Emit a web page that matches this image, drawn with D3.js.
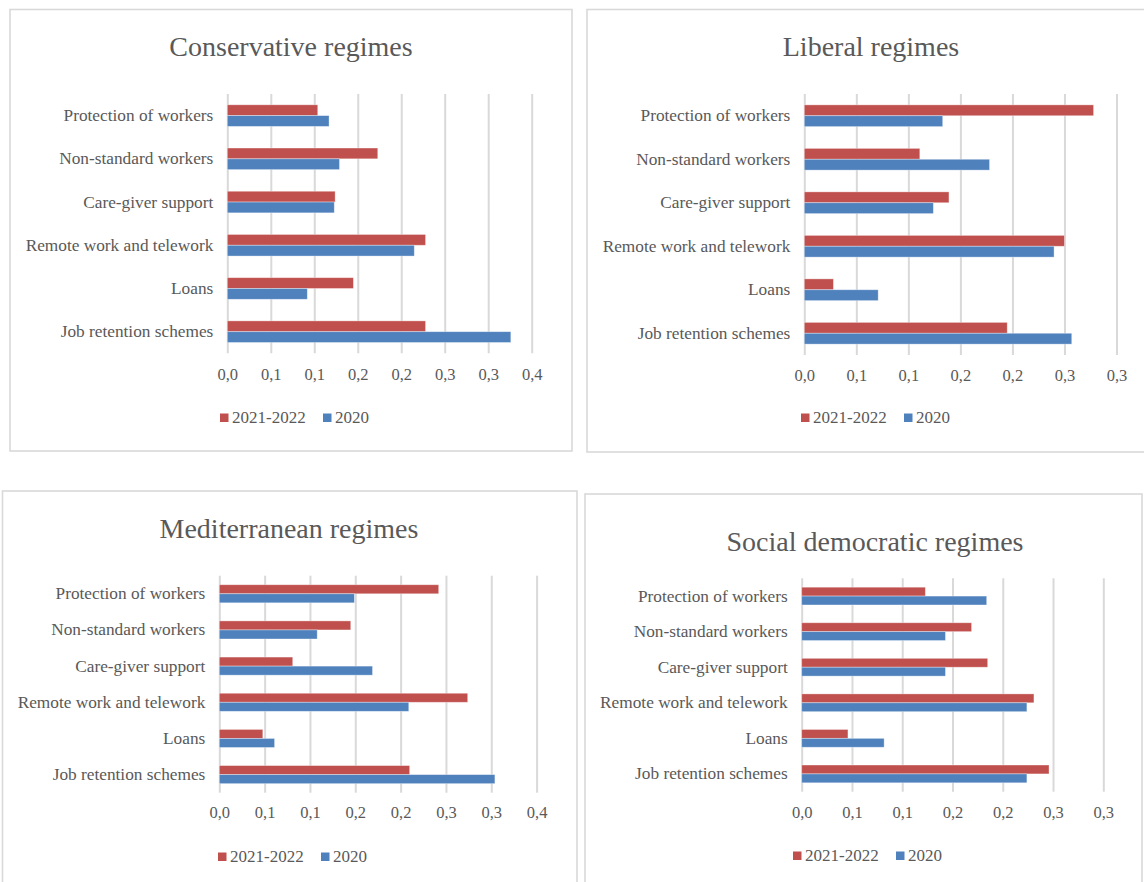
<!DOCTYPE html>
<html>
<head>
<meta charset="utf-8">
<script src="https://cdn.jsdelivr.net/npm/d3@7"></script>
<style>
  html, body { margin: 0; padding: 0; background: #ffffff; }
  svg { display: block; }
  text { font-family: "Liberation Serif", "Times New Roman", serif; fill: #595959; }
</style>
</head>
<body>
<svg id="chart" width="1144" height="882"></svg>
<script>
// Policy areas, listed top to bottom
const categories = [
  "Protection of workers",
  "Non-standard workers",
  "Care-giver support",
  "Remote work and telework",
  "Loans",
  "Job retention schemes"
];
const seriesNames = ["2021-2022", "2020"];
const seriesColors = ["#C0504D", "#4F81BD"];

// Shares per regime type and period
const conservative2122 = [0.104, 0.173, 0.124, 0.228, 0.145, 0.228];
const conservative2020 = [0.117, 0.129, 0.123, 0.215, 0.092, 0.326];
const liberal2122 = [0.278, 0.111, 0.139, 0.250, 0.028, 0.195];
const liberal2020 = [0.133, 0.178, 0.124, 0.240, 0.071, 0.257];
const mediterranean2122 = [0.242, 0.145, 0.081, 0.274, 0.048, 0.210];
const mediterranean2020 = [0.149, 0.108, 0.169, 0.209, 0.061, 0.304];
const social2122 = [0.123, 0.169, 0.185, 0.231, 0.046, 0.246];
const social2020 = [0.184, 0.143, 0.143, 0.224, 0.082, 0.224];

// Axis ticks (one-decimal labels, comma decimal separator)
const ticksTo035 = [0, 0.05, 0.10, 0.15, 0.20, 0.25, 0.30, 0.35];
const labelsTo035 = ["0,0", "0,1", "0,1", "0,2", "0,2", "0,3", "0,3", "0,4"];
const ticksTo030 = [0, 0.05, 0.10, 0.15, 0.20, 0.25, 0.30];
const labelsTo030 = ["0,0", "0,1", "0,1", "0,2", "0,2", "0,3", "0,3"];

const panels = [
  {
    title: "Conservative regimes", values: [conservative2122, conservative2020],
    ticks: ticksTo035, labels: labelsTo035,
    box: [10, 9.5, 562, 441.5], plot: { left: 227.3, right: 531.7, top: 94, bottom: 353.3 },
    titleX: 291, titleY: 56, tickY: 380, legendX: 220, legendY: 423
  },
  {
    title: "Liberal regimes", values: [liberal2122, liberal2020],
    ticks: ticksTo030, labels: labelsTo030,
    box: [587, 9.5, 580, 442.5], plot: { left: 804.3, right: 1116.5, top: 94, bottom: 355 },
    titleX: 871, titleY: 56, tickY: 381, legendX: 801, legendY: 423
  },
  {
    title: "Mediterranean regimes", values: [mediterranean2122, mediterranean2020],
    ticks: ticksTo035, labels: labelsTo035,
    box: [2.5, 491, 574.5, 420], plot: { left: 219.3, right: 536.6, top: 575.7, bottom: 792.7 },
    titleX: 289, titleY: 537.5, tickY: 818, legendX: 218, legendY: 862
  },
  {
    title: "Social democratic regimes", values: [social2122, social2020],
    ticks: ticksTo030, labels: labelsTo030,
    box: [585, 494, 557, 420], plot: { left: 801.7, right: 1103.3, top: 578.3, bottom: 791.7 },
    titleX: 875, titleY: 550.5, tickY: 818, legendX: 793, legendY: 861
  }
];

const svg = d3.select("#chart");

panels.forEach(p => {
  const g = svg.append("g");

  // frame
  g.append("rect")
    .attr("x", p.box[0]).attr("y", p.box[1])
    .attr("width", p.box[2]).attr("height", p.box[3])
    .attr("fill", "#ffffff").attr("stroke", "#d9d9d9").attr("stroke-width", 1.6);

  // title
  g.append("text")
    .attr("x", p.titleX).attr("y", p.titleY)
    .attr("text-anchor", "middle")
    .style("font-size", "28px")
    .text(p.title);

  const x = d3.scaleLinear()
    .domain([0, p.ticks[p.ticks.length - 1]])
    .range([p.plot.left, p.plot.right]);
  const y = d3.scaleBand()
    .domain(categories)
    .range([p.plot.top, p.plot.bottom])
    .paddingInner(0.5)
    .paddingOuter(0.25);
  const ySeries = d3.scaleBand()
    .domain(seriesNames)
    .range([0, y.bandwidth()]);

  // vertical gridlines
  const grid = g.append("g")
    .attr("transform", `translate(0,${p.plot.bottom})`)
    .call(d3.axisBottom(x).tickValues(p.ticks).tickSize(-(p.plot.bottom - p.plot.top)).tickFormat(""));
  grid.select(".domain").remove();
  grid.selectAll(".tick line").attr("stroke", "#d9d9d9").attr("stroke-width", 2);

  // tick labels
  const axis = g.append("g")
    .attr("transform", `translate(0,${p.tickY})`)
    .call(d3.axisBottom(x).tickValues(p.ticks).tickSize(0).tickPadding(0)
      .tickFormat((d, i) => p.labels[i]));
  axis.select(".domain").remove();
  axis.selectAll(".tick text")
    .attr("y", 0).attr("dy", null)
    .attr("fill", "#595959")
    .style("font-family", "'Liberation Serif', serif")
    .style("font-size", "16.5px");

  // category labels
  const cat = g.append("g")
    .attr("transform", `translate(${p.plot.left - 14},0)`)
    .call(d3.axisLeft(y).tickSize(0).tickPadding(0));
  cat.select(".domain").remove();
  cat.selectAll(".tick text")
    .attr("fill", "#595959")
    .style("font-family", "'Liberation Serif', serif")
    .style("font-size", "17.3px");

  // bars
  seriesNames.forEach((s, si) => {
    g.append("g").selectAll("rect")
      .data(categories.map((c, ci) => ({ c, v: p.values[si][ci] })))
      .join("rect")
      .attr("x", x(0))
      .attr("y", d => y(d.c) + ySeries(s))
      .attr("width", d => x(d.v) - x(0))
      .attr("height", ySeries.bandwidth())
      .attr("fill", seriesColors[si])
      .attr("stroke", "#ffffff")
      .attr("stroke-opacity", 0.45)
      .attr("stroke-width", 0.8);
  });

  // legend
  const offsets = [0, 103];
  seriesNames.forEach((s, si) => {
    const lx = p.legendX + offsets[si];
    g.append("rect")
      .attr("x", lx).attr("y", p.legendY - 9.5)
      .attr("width", 8.5).attr("height", 8.5)
      .attr("fill", seriesColors[si]);
    g.append("text")
      .attr("x", lx + 12).attr("y", p.legendY)
      .style("font-size", "17px")
      .text(s);
  });
});
</script>
</body>
</html>
